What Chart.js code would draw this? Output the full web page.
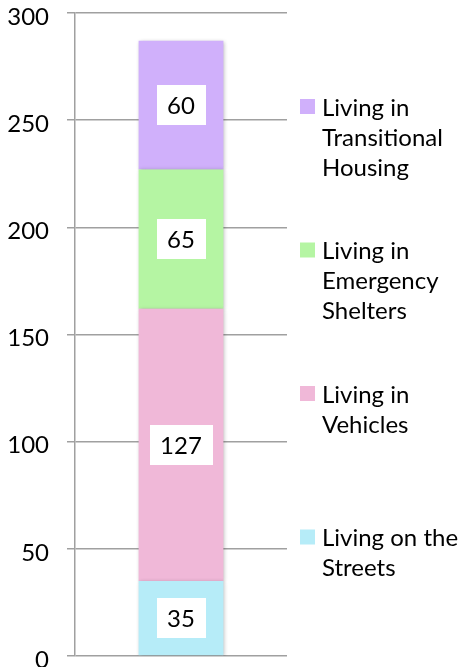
<!DOCTYPE html>
<html><head><meta charset="utf-8">
<script src="https://cdn.jsdelivr.net/npm/chart.js@4/dist/chart.umd.min.js"></script>
<style>html,body{margin:0;padding:0;background:#fff;}#wrap{width:462px;height:667px;position:relative;}canvas{display:block;}</style>
</head><body><div id="wrap"><canvas id="c" width="462" height="667"></canvas></div>
<script>
const categories = [''];
const seriesNames = ['Living on the Streets', 'Living in Vehicles', 'Living in Emergency Shelters', 'Living in Transitional Housing'];
const streets = [35];
const vehicles = [127];
const emergency = [65];
const transitional = [60];
const seriesColors = ['#B6ECF8', '#F0B8D8', '#B5F5A3', '#D0B0FB'];
const yTicks = [0, 50, 100, 150, 200, 250, 300];

const FONT = 'Lato, "Open Sans", sans-serif';
const seriesValues = [streets, vehicles, emergency, transitional];

const shadowPlugin = {
  id: 'barShadow',
  beforeDatasetsDraw(chart) {
    const ctx = chart.ctx;
    ctx.save();
    ctx.shadowColor = 'rgba(0,0,0,0.28)';
    ctx.shadowBlur = 4;
    ctx.shadowOffsetX = 1;
    ctx.shadowOffsetY = 1;
  },
  afterDatasetsDraw(chart) {
    chart.ctx.restore();
  }
};

const labelPlugin = {
  id: 'boxLabels',
  afterDatasetsDraw(chart) {
    const ctx = chart.ctx;
    ctx.save();
    ctx.font = '24px ' + FONT;
    ctx.textAlign = 'center';
    ctx.textBaseline = 'middle';
    chart.data.datasets.forEach((ds, i) => {
      const meta = chart.getDatasetMeta(i);
      meta.data.forEach((el, j) => {
        const v = ds.data[j];
        const txt = String(v);
        const cx = el.x;
        const cy = (el.y + el.base) / 2;
        const w = ctx.measureText(txt).width + 21;
        const h = 40;
        ctx.fillStyle = '#ffffff';
        ctx.fillRect(Math.round(cx - w / 2), Math.round(cy - h / 2), Math.round(w), h);
        ctx.fillStyle = '#000000';
        ctx.fillText(txt, cx, cy + 1);
      });
    });
    ctx.restore();
  }
};

function wrapText(ctx, text, maxW) {
  const words = text.split(' ');
  const lines = [];
  let cur = '';
  words.forEach(w => {
    const test = cur ? cur + ' ' + w : w;
    if (ctx.measureText(test).width > maxW && cur) { lines.push(cur); cur = w; }
    else cur = test;
  });
  if (cur) lines.push(cur);
  return lines;
}

const legendPlugin = {
  id: 'sideLegend',
  afterDraw(chart) {
    const ctx = chart.ctx;
    ctx.save();
    ctx.font = '24px ' + FONT;
    ctx.textBaseline = 'middle';
    ctx.textAlign = 'left';
    const n = chart.data.datasets.length;
    const startY = 108, itemGap = 143.5, lineH = 30;
    for (let k = 0; k < n; k++) {
      const i = n - 1 - k;
      const ds = chart.data.datasets[i];
      const y0 = startY + k * itemGap;
      ctx.fillStyle = ds.backgroundColor;
      ctx.fillRect(300, y0 - 9, 15, 15);
      ctx.fillStyle = '#000000';
      const lines = wrapText(ctx, ds.label, 145);
      lines.forEach((ln, li) => ctx.fillText(ln, 322, y0 + li * lineH));
    }
    ctx.restore();
  }
};

new Chart(document.getElementById('c'), {
  type: 'bar',
  data: {
    labels: categories,
    datasets: seriesValues.map((vals, i) => ({
      label: seriesNames[i],
      data: vals,
      backgroundColor: seriesColors[i],
      borderWidth: 0,
      barPercentage: 0.4,
      categoryPercentage: 1
    }))
  },
  options: {
    responsive: false,
    animation: false,
    devicePixelRatio: 1,
    layout: { padding: { top: 13, bottom: 11, left: 0, right: 175 } },
    plugins: { legend: { display: false }, tooltip: { enabled: false } },
    scales: {
      x: { stacked: true, display: false },
      y: {
        stacked: true,
        min: 0, max: 300,
        afterBuildTicks(scale) { scale.ticks = yTicks.map(v => ({ value: v })); },
        afterFit(scale) { scale.width = 75; scale.paddingTop = 0; scale.paddingBottom = 0; },
        ticks: { color: '#000', padding: 18, labelOffset: 4, font: { family: FONT, size: 24, lineHeight: 1 } },
        grid: { color: '#a0a0a0', lineWidth: 1.5, tickLength: 8, drawTicks: true },
        border: { display: true, color: '#a0a0a0', width: 1.5 }
      }
    }
  },
  plugins: [shadowPlugin, labelPlugin, legendPlugin]
});
</script>
</body></html>
